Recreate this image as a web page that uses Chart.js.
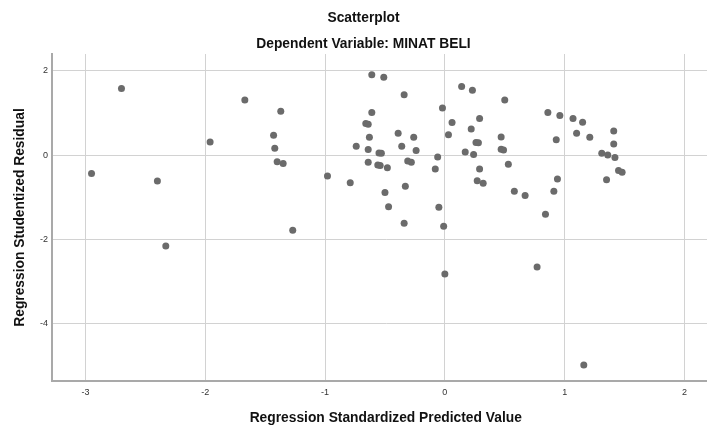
<!DOCTYPE html>
<html>
<head>
<meta charset="utf-8">
<script src="https://cdn.jsdelivr.net/npm/chart.js@4"></script>
<style>
  html, body { margin: 0; padding: 0; background: #fff; overflow: hidden; }
  #wrap { width: 723px; height: 425px; }
</style>
</head>
<body>
<div id="wrap"><canvas id="scatterChart" width="723" height="425"></canvas></div>
<script>
// Regression Standardized Predicted Value (x) and Studentized Residual (y)
const predictedValues = [
  -2.95, -2.70, -2.40, -2.33, -1.96, -1.67, -1.43, -1.42, -1.37, -1.40,
  -1.35, -1.27, -0.98, -0.79, -0.74, -0.66, -0.64, -0.63, -0.64, -0.64,
  -0.61, -0.61, -0.56, -0.54, -0.55, -0.53, -0.51, -0.50, -0.48, -0.47,
  -0.39, -0.36, -0.34, -0.34, -0.33, -0.31, -0.28, -0.26, -0.24, -0.08,
  -0.06, -0.05, -0.02, -0.01, 0.00, 0.03, 0.06, 0.14, 0.17, 0.22,
  0.23, 0.24, 0.26, 0.28, 0.29, 0.29, 0.27, 0.32, 0.47, 0.47,
  0.49, 0.50, 0.53, 0.58, 0.67, 0.77, 0.84, 0.86, 0.91, 0.93,
  0.94, 0.96, 1.07, 1.10, 1.15, 1.16, 1.21, 1.31, 1.36, 1.35,
  1.41, 1.41, 1.42, 1.45, 1.48
];
const studentizedResiduals = [
  -0.44, 1.58, -0.62, -2.16, 0.31, 1.31, 0.47, 0.16, 1.04, -0.16,
  -0.20, -1.79, -0.50, -0.66, 0.21, 0.75, 0.73, 0.42, 0.13, -0.17,
  1.91, 1.01, -0.24, -0.25, 0.05, 0.04, 1.85, -0.89, -0.30, -1.23,
  0.52, 0.21, 1.43, -1.62, -0.74, -0.14, -0.17, 0.42, 0.11, -0.33,
  -0.05, -1.24, 1.12, -1.69, -2.83, 0.48, 0.77, 1.63, 0.07, 0.62,
  1.54, 0.01, 0.30, 0.29, 0.87, -0.33, -0.61, -0.67, 0.43, 0.14,
  0.12, 1.31, -0.22, -0.86, -0.96, -2.66, -1.41, 1.01, -0.86, 0.36,
  -0.57, 0.94, 0.87, 0.52, 0.78, -4.99, 0.42, 0.04, 0.00, -0.59,
  0.57, 0.26, -0.06, -0.37, -0.41
];
const xTickValues = [-3, -2, -1, 0, 1, 2];
const yTickValues = [-4, -2, 0, 2];

const points = predictedValues.map((x, i) => ({ x: x, y: studentizedResiduals[i] }));

const titleFont = { family: "'Liberation Sans', Arial, sans-serif", size: 13.8, weight: "bold", lineHeight: 1.2 };
const tickFont = { family: "'Liberation Sans', Arial, sans-serif", size: 9 };

const ctx = document.getElementById("scatterChart").getContext("2d");
new Chart(ctx, {
  type: "scatter",
  data: {
    datasets: [
      {
        label: "Residuals",
        data: points,
        backgroundColor: "#6b6b6b",
        borderWidth: 0,
        pointRadius: 3.5,
        pointHoverRadius: 3.5,
      },
    ],
  },
  options: {
    responsive: false,
    animation: false,
    layout: { padding: { left: 4, right: 0, top: 0, bottom: 0 } },
    plugins: {
      legend: { display: false },
      tooltip: { enabled: false },
      title: {
        display: true,
        text: "Scatterplot",
        color: "#111",
        font: titleFont,
        padding: { top: 9.5, bottom: 10 },
      },
      subtitle: {
        display: true,
        text: "Dependent Variable: MINAT BELI",
        color: "#111",
        font: titleFont,
        padding: { top: 0, bottom: 1.4 },
      },
    },
    scales: {
      x: {
        type: "linear",
        min: -3.28,
        max: 2.293,
        afterBuildTicks: (scale) => {
          scale.ticks = xTickValues.map((v) => ({ value: v }));
        },
        afterFit: (scale) => {
          scale.height = 44;
        },
        grid: { color: "#d2d2d2", lineWidth: 1, drawTicks: false },
        border: { color: "#a9a9a9", width: 2 },
        ticks: { color: "#333", font: tickFont, padding: 6 },
        title: {
          display: true,
          text: "Regression Standardized Predicted Value",
          color: "#111",
          font: { ...titleFont, lineHeight: 1 },
          padding: 0,
        },
      },
      y: {
        type: "linear",
        min: -5.37,
        max: 2.4,
        afterBuildTicks: (scale) => {
          scale.ticks = yTickValues.map((v) => ({ value: v }));
        },
        afterFit: (scale) => {
          scale.width = 48;
        },
        grid: { color: "#d2d2d2", lineWidth: 1, drawTicks: false },
        border: { color: "#a9a9a9", width: 2 },
        ticks: { color: "#333", font: tickFont, padding: 4 },
        title: {
          display: true,
          text: "Regression Studentized Residual",
          color: "#111",
          font: titleFont,
          padding: { top: 8, bottom: 0 },
        },
      },
    },
  },
});
</script>
</body>
</html>
